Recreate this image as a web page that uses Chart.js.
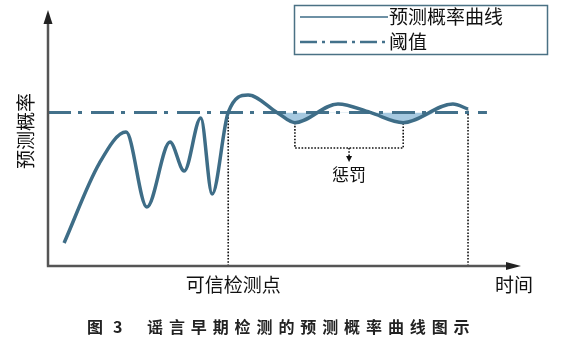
<!DOCTYPE html>
<html>
<head>
<meta charset="utf-8">
<script src="https://cdn.jsdelivr.net/npm/chart.js@4.4.0/dist/chart.umd.min.js"></script>
<style>
    html, body { margin: 0; padding: 0; background: #fff; }
    canvas { display: block; }
</style>
</head>
<body>
<canvas id="grafica" width="562" height="341"></canvas>
<script>
// Curva de probabilidad (tiempo normalizado 0-100, probabilidad 0-1)
const curvaX = [3.4, 10.85, 16.5, 20.9, 25.8, 28.8, 32.3, 34.7, 38.1, 42.3, 48.4, 52.2, 61.3, 68.1, 75.1, 85.6, 88.8];
const curvaY = [0.09, 0.401, 0.523, 0.23, 0.484, 0.371, 0.578, 0.281, 0.6, 0.668, 0.6, 0.56, 0.633, 0.6, 0.56, 0.633, 0.613];

// Umbral
const umbral = 0.6;
const umbralX = [0, 92.8];

// Marcas auxiliares
const idxConfiable = 8;          // 可信检测点
const idxValles = [11, 14];      // valles penalizados
const tramoPenal = [10, 16];     // tramo sombreado
const penalBase = 0.461;
const penalFlecha = 0.418;
const penalTexto = 0.358;

const textos = {
    curva: '预测概率曲线',
    umbral: '阈值',
    ejeY: '预测概率',
    punto: '可信检测点',
    tiempo: '时间',
    penal: '惩罚'
};
const titulo = ['图', '3', '谣言早期检测的预测概率曲线图示'];

const COLOR_CURVA = '#3e6d87';
const COLOR_UMBRAL = '#43718b';
const COLOR_EJE = '#555';
const FUENTE = '"Noto Sans CJK SC", "Noto Sans", sans-serif';

const puntosCurva = curvaX.map((x, i) => ({ x: x, y: curvaY[i] }));
const xConf = curvaX[idxConfiable];
const xFin = curvaX[curvaX.length - 1];
const xV1 = curvaX[idxValles[0]];
const xV2 = curvaX[idxValles[1]];
const xMedio = (xV1 + xV2) / 2;

const punteado = {
    borderColor: '#111',
    borderWidth: 1.6,
    borderDash: [1.6, 1.6],
    pointRadius: 0,
    fill: false
};

// Decoraciones: ejes con flecha, leyenda, textos
const pluginDecoracion = {
    id: 'decoracion',
    afterDraw(chart) {
        const ctx = chart.ctx;
        const sx = chart.scales.x;
        const sy = chart.scales.y;
        const area = chart.chartArea;
        const x0 = sx.getPixelForValue(0);
        const y0 = sy.getPixelForValue(0);

        ctx.save();
        // Ejes
        ctx.strokeStyle = COLOR_EJE;
        ctx.fillStyle = '#222';
        ctx.lineWidth = 2.5;
        ctx.beginPath();
        ctx.moveTo(x0, y0);
        ctx.lineTo(x0, area.top + 10);
        ctx.moveTo(x0 - 1.2, y0);
        ctx.lineTo(area.right - 10, y0);
        ctx.stroke();

        ctx.beginPath();
        ctx.moveTo(x0, area.top);
        ctx.lineTo(x0 - 4.5, area.top + 14);
        ctx.lineTo(x0 + 4.5, area.top + 14);
        ctx.closePath();
        ctx.fill();

        ctx.beginPath();
        ctx.moveTo(area.right, y0);
        ctx.lineTo(area.right - 15, y0 - 4);
        ctx.lineTo(area.right - 15, y0 + 4);
        ctx.closePath();
        ctx.fill();

        // Flecha de penalización
        const px = sx.getPixelForValue(xMedio);
        const py = sy.getPixelForValue(penalFlecha);
        ctx.fillStyle = '#111';
        ctx.beginPath();
        ctx.moveTo(px, py + 3);
        ctx.lineTo(px - 3, py - 3);
        ctx.lineTo(px + 3, py - 3);
        ctx.closePath();
        ctx.fill();

        // Textos
        ctx.fillStyle = '#111';
        ctx.textBaseline = 'middle';
        ctx.textAlign = 'center';
        ctx.font = '17px ' + FUENTE;
        ctx.fillText(textos.penal, px, sy.getPixelForValue(penalTexto));

        ctx.font = '19px ' + FUENTE;
        ctx.fillText(textos.punto, sx.getPixelForValue(xConf) + 5, y0 + 19);
        ctx.fillText(textos.tiempo, area.right - 7, y0 + 19);

        ctx.save();
        ctx.translate(26, 131);
        ctx.rotate(-Math.PI / 2);
        ctx.fillText(textos.ejeY, 0, 0);
        ctx.restore();

        // Leyenda
        ctx.strokeStyle = '#4a7184';
        ctx.lineWidth = 1.5;
        ctx.strokeRect(294.5, 5.5, 253, 49);

        ctx.strokeStyle = COLOR_CURVA;
        ctx.lineWidth = 1.6;
        ctx.beginPath();
        ctx.moveTo(300, 17);
        ctx.lineTo(388, 17);
        ctx.stroke();

        ctx.strokeStyle = COLOR_UMBRAL;
        ctx.lineWidth = 2.6;
        ctx.setLineDash([17, 5, 3, 5]);
        ctx.beginPath();
        ctx.moveTo(300, 42);
        ctx.lineTo(388, 42);
        ctx.stroke();
        ctx.setLineDash([]);

        ctx.textAlign = 'left';
        ctx.font = '19px ' + FUENTE;
        ctx.fillStyle = '#111';
        ctx.fillText(textos.curva, 389, 17);
        ctx.fillText(textos.umbral, 389, 42);

        // Título de la figura
        ctx.font = 'bold 16px ' + FUENTE;
        ctx.fillStyle = '#222';
        ctx.fillText(titulo[0], 87, 327);
        ctx.fillText(titulo[1], 113, 327);
        const letras = Array.from(titulo[2]);
        letras.forEach((c, i) => {
            ctx.fillText(c, 147 + i * 21.9, 327);
        });
        ctx.restore();
    }
};

const ctx = document.getElementById('grafica').getContext('2d');
new Chart(ctx, {
    type: 'line',
    data: {
        datasets: [
            {
                label: textos.curva,
                data: puntosCurva,
                borderColor: COLOR_CURVA,
                borderWidth: 3.5,
                pointRadius: 0,
                cubicInterpolationMode: 'monotone',
                fill: false
            },
            {
                label: textos.umbral,
                data: umbralX.map(x => ({ x: x, y: umbral })),
                borderColor: COLOR_UMBRAL,
                borderWidth: 3,
                borderDash: [23, 7, 4, 9],
                pointRadius: 0,
                fill: false
            },
            {
                label: 'sombra',
                data: puntosCurva.slice(tramoPenal[0], tramoPenal[1]),
                borderColor: 'rgba(0,0,0,0)',
                borderWidth: 0,
                pointRadius: 0,
                cubicInterpolationMode: 'monotone',
                fill: { target: { value: umbral }, above: 'rgba(0,0,0,0)', below: '#a6c9e0' }
            },
            Object.assign({ label: 'conf', data: [{ x: xConf, y: 0 }, { x: xConf, y: curvaY[idxConfiable] }] }, punteado),
            Object.assign({ label: 'fin', data: [{ x: xFin, y: 0 }, { x: xFin, y: curvaY[curvaY.length - 1] }] }, punteado),
            Object.assign({
                label: 'penal',
                data: [
                    { x: xV1, y: curvaY[idxValles[0]] },
                    { x: xV1, y: penalBase },
                    { x: xV2, y: penalBase },
                    { x: xV2, y: curvaY[idxValles[1]] }
                ]
            }, punteado),
            Object.assign({ label: 'flecha', data: [{ x: xMedio, y: penalBase }, { x: xMedio, y: penalFlecha + 0.01 }] }, punteado)
        ]
    },
    options: {
        responsive: false,
        animation: false,
        layout: { padding: { left: 48, right: 41, top: 10, bottom: 75 } },
        scales: {
            x: { type: 'linear', min: 0, max: 100, display: false },
            y: { min: 0, max: 1, display: false }
        },
        plugins: {
            legend: { display: false },
            tooltip: { enabled: false }
        }
    },
    plugins: [pluginDecoracion]
});
</script>
</body>
</html>
